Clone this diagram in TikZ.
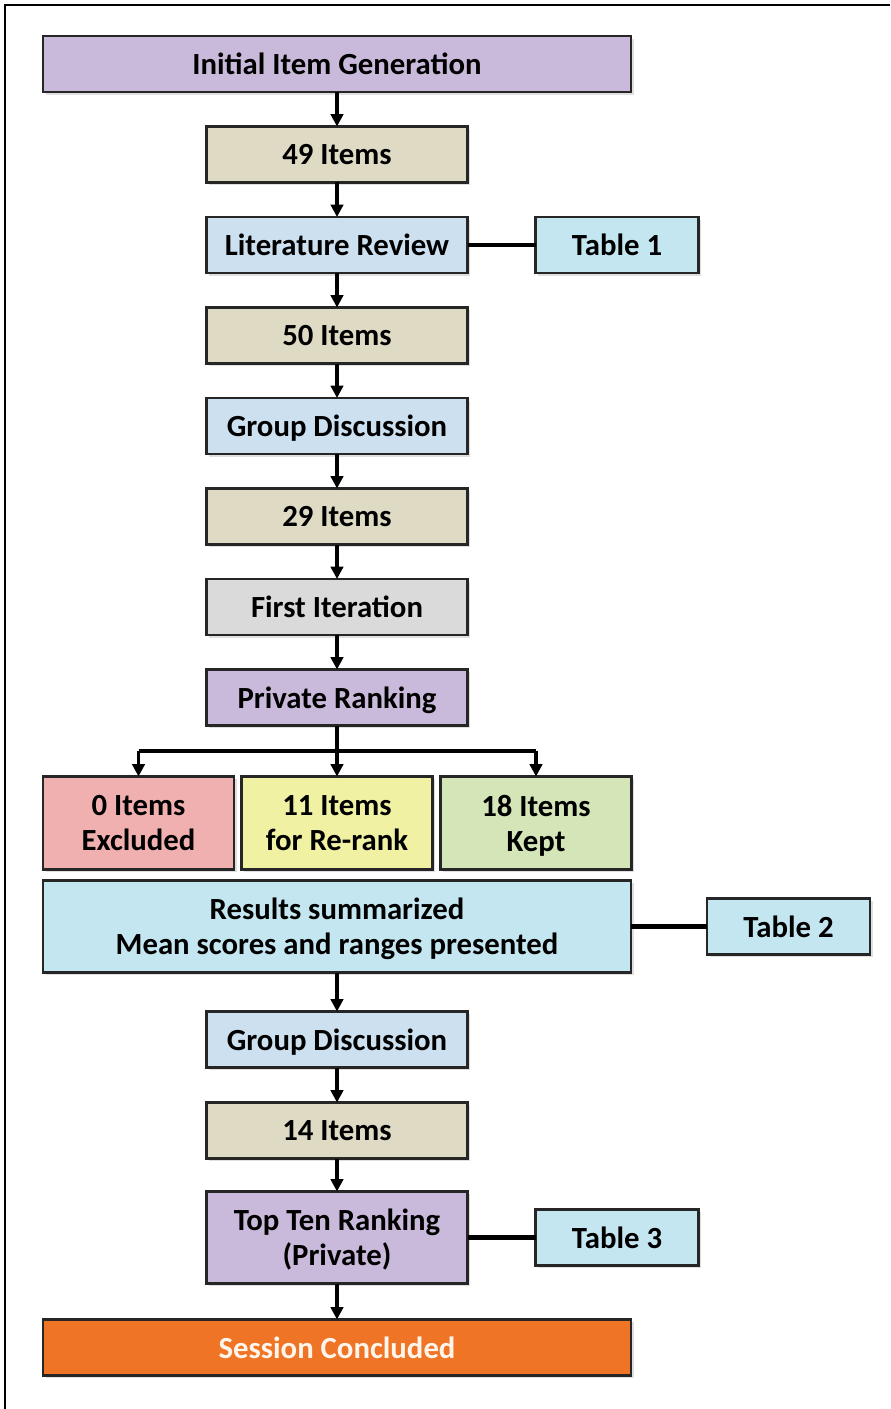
\documentclass[tikz,border=0pt]{standalone}
\usepackage{fontspec}
\setmainfont{Carlito}
\usepackage{xcolor}
\usetikzlibrary{arrows.meta, positioning, shadows, calc}

\definecolor{lilac}{RGB}{201,185,218}
\definecolor{khaki}{RGB}{222,218,196}
\definecolor{steel}{RGB}{204,224,240}
\definecolor{aqua}{RGB}{196,230,240}
\definecolor{silver}{RGB}{218,218,218}
\definecolor{rose}{RGB}{241,176,176}
\definecolor{lemon}{RGB}{241,241,164}
\definecolor{sage}{RGB}{212,229,184}
\definecolor{tangerine}{RGB}{240,116,38}

\begin{document}
\begin{tikzpicture}[
    box/.style={draw=black!85, line width=1.2pt, minimum height=1.12cm,
        inner sep=0pt, outer sep=0pt, align=center, text depth=0pt,
        font=\bfseries\fontsize{17.5}{20}\selectfont,
        drop shadow={shadow xshift=1.5pt, shadow yshift=-1.5pt, opacity=0.25}},
    wide/.style={box, minimum width=11.76cm},
    mid/.style={box, minimum width=5.22cm},
    tab/.style={box, minimum width=3.26cm, fill=aqua},
    trio/.style={box, minimum width=3.82cm, minimum height=1.86cm},
    arr/.style={-{Triangle[length=7pt, width=7pt]}, line width=1.8pt},
    link/.style={line width=2.6pt},
]
\useasboundingbox (0,0) rectangle (17.8,-28.18);

% ---- outer frame (cut at right and bottom) ----
\draw[line width=1.3pt] (17.8,-0.1) -- (0.1,-0.1) -- (0.1,-28.18);

% ---- first round ----
\node[wide, fill=lilac] (gen) at (6.74,-1.28) {Initial Item Generation};
\node[mid, fill=khaki, below=0.69 of gen] (n49) {49 Items};
\node[mid, fill=steel, below=0.69 of n49] (lit) {Literature Review};
\node[tab, right=1.36 of lit] (tab1) {Table 1};
\node[mid, fill=khaki, below=0.69 of lit] (n50) {50 Items};
\node[mid, fill=steel, below=0.69 of n50] (disc1) {Group Discussion};
\node[mid, fill=khaki, below=0.69 of disc1] (n29) {29 Items};
\node[mid, fill=silver, below=0.69 of n29] (iter) {First Iteration};
\node[mid, fill=lilac, below=0.69 of iter] (rank) {Private Ranking};

% ---- three outcomes ----
\node[trio, fill=lemon, below=1.02 of rank] (rerank) {11 Items\\for Re-rank};
\node[trio, fill=rose, left=0.15 of rerank] (excl) {0 Items\\Excluded};
\node[trio, fill=sage, right=0.16 of rerank] (kept) {18 Items\\Kept};

% ---- second round ----
\node[wide, fill=aqua, minimum height=1.84cm, below=0.22 of rerank] (res)
    {Results summarized\\Mean scores and ranges presented};
\node[tab, right=1.52 of res] (tab2) {Table 2};
\node[mid, fill=steel, below=0.78 of res] (disc2) {Group Discussion};
\node[mid, fill=khaki, below=0.70 of disc2] (n14) {14 Items};
\node[mid, fill=lilac, minimum height=1.84cm, below=0.66 of n14] (top)
    {Top Ten Ranking\\(Private)};
\node[tab, right=1.36 of top] (tab3) {Table 3};
\node[wide, fill=tangerine, text=white!92!orange, below=0.72 of top] (end)
    {Session Concluded};

% ---- main arrows ----
\draw[arr] (gen) -- (n49);
\draw[arr] (n49) -- (lit);
\draw[arr] (lit) -- (n50);
\draw[arr] (n50) -- (disc1);
\draw[arr] (disc1) -- (n29);
\draw[arr] (n29) -- (iter);
\draw[arr] (iter) -- (rank);
\draw[arr] (rank) -- (rerank);
\draw[arr] (res) -- (disc2);
\draw[arr] (disc2) -- (n14);
\draw[arr] (n14) -- (top);
\draw[arr] (top) -- (end);

% ---- split below the private ranking ----
\coordinate (split) at ($(rank.south)!0.5!(rerank.north)$);
\draw[line width=1.8pt] (excl.north |- split) -- (kept.north |- split);
\draw[arr] (excl.north |- split) -- (excl.north);
\draw[arr] (kept.north |- split) -- (kept.north);

% ---- table links ----
\draw[link] (lit) -- (tab1);
\draw[link] (res) -- (tab2);
\draw[link] (top) -- (tab3);

\end{tikzpicture}
\end{document}
